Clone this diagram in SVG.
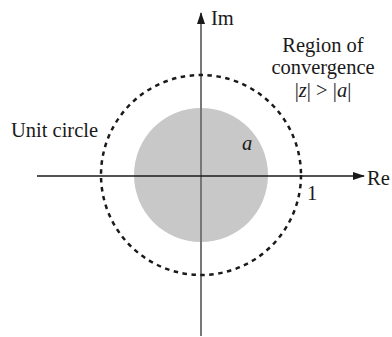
<svg xmlns="http://www.w3.org/2000/svg" width="392" height="337" viewBox="0 0 392 337">
<style>
text{font-family:"Liberation Serif","Times New Roman",serif;font-size:20.5px;fill:#1a1a1a}
.it{font-style:italic}
</style>
<defs>
<marker id="ah" markerWidth="12" markerHeight="8" refX="11" refY="4" orient="auto" markerUnits="userSpaceOnUse">
<path d="M0,0 L12,4 L0,8 Z" fill="#1a1a1a"/>
</marker>
</defs>
<g id="roc-disc"><circle cx="201" cy="175" r="67" fill="#c8c8c8"/></g>
<g id="connectors">
<line x1="201" y1="336" x2="201" y2="13" stroke="#777" stroke-width="2" marker-end="url(#ah)"/>
<line x1="37" y1="176" x2="364" y2="176" stroke="#1a1a1a" stroke-width="1.5" marker-end="url(#ah)"/>
</g>
<g id="unit-circle"><circle cx="201" cy="175" r="100" fill="none" stroke="#1a1a1a" stroke-width="2.5" stroke-dasharray="4.5 4.5"/></g>
<g id="labels">
<text x="211" y="25">Im</text>
<text x="323" y="52" text-anchor="middle">Region of</text>
<text x="323" y="74" text-anchor="middle">convergence</text>
<text x="323" y="97" text-anchor="middle">|<tspan class="it">z</tspan>| &gt; |<tspan class="it">a</tspan>|</text>
<text x="11" y="137">Unit circle</text>
<text x="242" y="150" class="it">a</text>
<text x="307" y="200">1</text>
<text x="367" y="185">Re</text>
</g>
</svg>
